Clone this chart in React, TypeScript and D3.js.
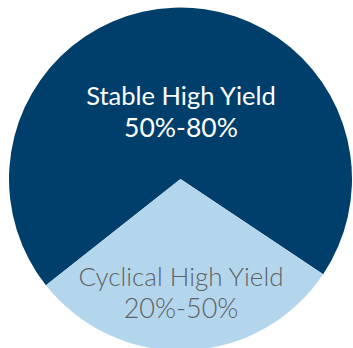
import React from "react";
import * as d3 from "d3";

const categories = ["Stable High Yield", "Cyclical High Yield"];
const values = [70, 30];
const rangeLabels = ["50%-80%", "20%-50%"];
const colors = ["#003f6b", "#b3d6ec"];
const textColors = ["#ffffff", "#5f6368"];
const weights = [400, 300];

export default function App() {
  const W = 353, H = 348;
  const cx = 180.5, cy = 179, r = 171.5;
  const start = (-128.3 * Math.PI) / 180;
  const pie = d3.pie<number>().sort(null).startAngle(start).endAngle(start + 2 * Math.PI);
  const arcs = pie(values);
  const arc = d3.arc<d3.PieArcDatum<number>>().innerRadius(0).outerRadius(r);
  const labelY = [[105, 137], [286, 318]];
  const sizes = [25.5, 26];
  return (
    <svg width={W} height={H} style={{ position: "absolute", left: 0, top: 0 }}>
      <g transform={`translate(${cx},${cy})`}>
        {arcs.map((a, i) => (
          <path key={i} d={arc(a) || ""} fill={colors[i]} />
        ))}
      </g>
      {categories.map((c, i) => (
        <g key={c} fontFamily="Lato, sans-serif" fontSize={sizes[i]} fontWeight={weights[i]} fill={textColors[i]} textAnchor="middle">
          <text x={cx + 0.5} y={labelY[i][0]}>{c}</text>
          <text x={cx + 0.5} y={labelY[i][1]} fontSize={sizes[i] + 1}>{rangeLabels[i]}</text>
        </g>
      ))}
    </svg>
  );
}
